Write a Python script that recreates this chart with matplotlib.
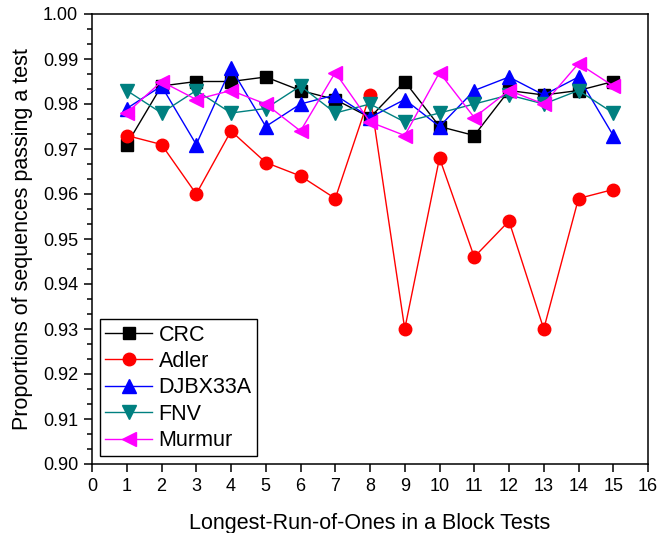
import numpy as np
import matplotlib.pyplot as plt
from matplotlib.ticker import MultipleLocator

plt.rcParams['font.family'] = ['Liberation Sans', 'DejaVu Sans']

# Data
tests = list(range(1, 16))
crc = [0.971, 0.984, 0.985, 0.985, 0.986, 0.983, 0.981, 0.977,
       0.985, 0.975, 0.973, 0.983, 0.982, 0.983, 0.985]
adler = [0.973, 0.971, 0.960, 0.974, 0.967, 0.964, 0.959, 0.982,
         0.930, 0.968, 0.946, 0.954, 0.930, 0.959, 0.961]
djbx33a = [0.979, 0.984, 0.971, 0.988, 0.975, 0.980, 0.982, 0.977,
           0.981, 0.975, 0.983, 0.986, 0.982, 0.986, 0.973]
fnv = [0.983, 0.978, 0.983, 0.978, 0.979, 0.984, 0.978, 0.980,
       0.976, 0.978, 0.980, 0.982, 0.980, 0.983, 0.978]
murmur = [0.978, 0.985, 0.981, 0.983, 0.980, 0.974, 0.987, 0.976,
          0.973, 0.987, 0.977, 0.983, 0.980, 0.989, 0.984]

series = [
    ('CRC', crc, 'black', 's', 8),
    ('Adler', adler, 'red', 'o', 9),
    ('DJBX33A', djbx33a, 'blue', '^', 9.5),
    ('FNV', fnv, '#008080', 'v', 9.5),
    ('Murmur', murmur, 'magenta', '<', 9.5),
]

fig = plt.figure(figsize=(6.59, 5.33), dpi=100)
ax = fig.add_axes([92 / 659, 1 - 464 / 533, (648 - 92) / 659, (464 - 14) / 533])

for name, vals, color, marker, ms in series:
    ax.plot(tests, vals, color=color, marker=marker, markersize=ms,
            linewidth=1, label=name)

ax.set_xlim(0, 16)
ax.set_ylim(0.90, 1.00)
ax.xaxis.set_major_locator(MultipleLocator(1))
ax.yaxis.set_major_locator(MultipleLocator(0.01))
ax.yaxis.set_minor_locator(MultipleLocator(0.01 / 3))
ax.yaxis.set_major_formatter(plt.FormatStrFormatter('%.2f'))
ax.tick_params(axis='both', which='major', direction='out', length=6,
               width=1.1, labelsize=13, pad=4)
ax.tick_params(axis='y', which='minor', direction='out', length=3.6, width=1.1)

for spine in ax.spines.values():
    spine.set_linewidth(1.1)

ax.set_xlabel('Longest-Run-of-Ones in a Block Tests', fontsize=15.5, labelpad=13)
ax.set_ylabel('Proportions of sequences passing a test', fontsize=15.5, labelpad=7)

leg = ax.legend(loc='lower left', fontsize=15.5, fancybox=False,
                edgecolor='black', framealpha=1, handlelength=2.2,
                handletextpad=0.3, borderpad=0.25, labelspacing=0.25,
                borderaxespad=0.35)
leg.get_frame().set_linewidth(1)

fig.savefig('out.png', dpi=100)
